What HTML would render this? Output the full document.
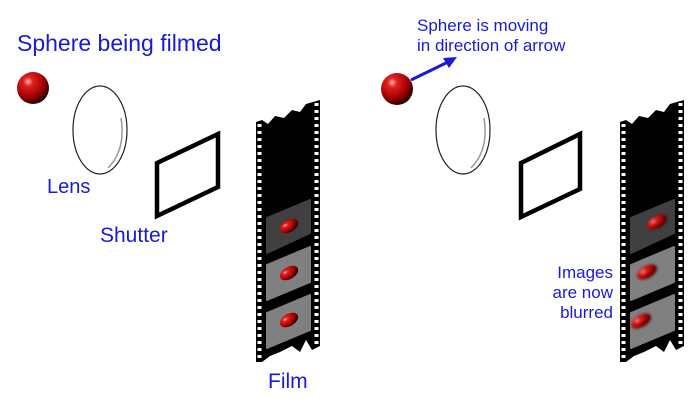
<!DOCTYPE html>
<html><head><meta charset="utf-8"><style>
html,body{margin:0;padding:0;background:#fff;}
svg{display:block;}
text{font-family:"Liberation Sans","DejaVu Sans",sans-serif;fill:#1a1ad6;}
</style></head><body>
<svg width="700" height="401" viewBox="0 0 700 401" xmlns="http://www.w3.org/2000/svg">
<defs>
<radialGradient id="sph" cx="0.35" cy="0.3" r="0.75">
<stop offset="0" stop-color="#ffb0b0"/><stop offset="0.2" stop-color="#e02020"/><stop offset="0.65" stop-color="#a00000"/><stop offset="1" stop-color="#100000"/>
</radialGradient>
<filter id="bl" x="-50%" y="-50%" width="200%" height="200%"><feGaussianBlur stdDeviation="1.3"/></filter>
<g id="film">
<path d="M256 122 L262 120 L268 124 L275 116 L284 118 L292 110 L300 112 L306 104 L320 100 L320 346 L312 350 L306 340 L300 352 L292 346 L280 352 L270 356 L262 362 L256 362 Z" fill="#000"/>
<line x1="259.5" y1="124" x2="259.5" y2="360" stroke="#fff" stroke-width="4" stroke-dasharray="3 4"/>
<line x1="316.5" y1="103" x2="316.5" y2="346" stroke="#fff" stroke-width="4" stroke-dasharray="3 4"/>
<path d="M267 218 L310 200 L310 233 L267 253 Z" fill="#404040" stroke="#404040" stroke-width="2" stroke-linejoin="round"/>
<path d="M267 265 L310 247 L310 282 L267 300 Z" fill="#808080" stroke="#808080" stroke-width="2" stroke-linejoin="round"/>
<path d="M267 313 L310 295 L310 330 L267 348 Z" fill="#808080" stroke="#808080" stroke-width="2" stroke-linejoin="round"/>
</g>
</defs>

<text x="17" y="51" font-size="23">Sphere being filmed</text>
<circle cx="33" cy="88" r="16" fill="url(#sph)"/>
<ellipse cx="100" cy="130" rx="27" ry="44" fill="#fff" stroke="#222" stroke-width="1.2"/>
<path d="M121 118 Q126 150 108 168" fill="none" stroke="#999" stroke-width="1.5"/>
<text x="47" y="193" font-size="20">Lens</text>
<path d="M157 163 L218 134 L218 187 L157 216 Z" fill="none" stroke="#000" stroke-width="4.5"/>
<text x="100" y="242" font-size="21">Shutter</text>
<use href="#film"/>
<ellipse cx="289" cy="226" rx="10" ry="6" transform="rotate(-30 289 226)" fill="url(#sph)"/>
<ellipse cx="289" cy="273" rx="10" ry="6" transform="rotate(-30 289 273)" fill="url(#sph)"/>
<ellipse cx="289" cy="320" rx="10" ry="6" transform="rotate(-30 289 320)" fill="url(#sph)"/>
<text x="268" y="388" font-size="21">Film</text>

<text x="417" y="31" font-size="17">Sphere is moving</text>
<text x="417" y="51" font-size="17">in direction of arrow</text>
<circle cx="397" cy="89" r="16" fill="url(#sph)"/>
<line x1="411" y1="80" x2="448" y2="62" stroke="#1a1ad6" stroke-width="3"/>
<path d="M457 57 L443 58 L449 68 Z" fill="#1a1ad6"/>
<ellipse cx="463" cy="130" rx="27" ry="44" fill="#fff" stroke="#222" stroke-width="1.2"/>
<path d="M484 118 Q489 150 471 168" fill="none" stroke="#999" stroke-width="1.5"/>
<path d="M521 163 L580 134 L580 189 L521 217 Z" fill="none" stroke="#000" stroke-width="4.5"/>
<use href="#film" transform="translate(364 0)"/>
<g filter="url(#bl)">
<ellipse cx="657" cy="222" rx="11" ry="6" transform="rotate(-30 657 222)" fill="url(#sph)"/>
<ellipse cx="647" cy="272" rx="11" ry="6" transform="rotate(-30 647 272)" fill="url(#sph)"/>
<ellipse cx="641" cy="321" rx="11" ry="6" transform="rotate(-30 641 321)" fill="url(#sph)"/>
</g>
<text x="613" y="278" font-size="17" text-anchor="end">Images</text>
<text x="613" y="298" font-size="17" text-anchor="end">are now</text>
<text x="613" y="318" font-size="17" text-anchor="end">blurred</text>
</svg>
</body></html>
